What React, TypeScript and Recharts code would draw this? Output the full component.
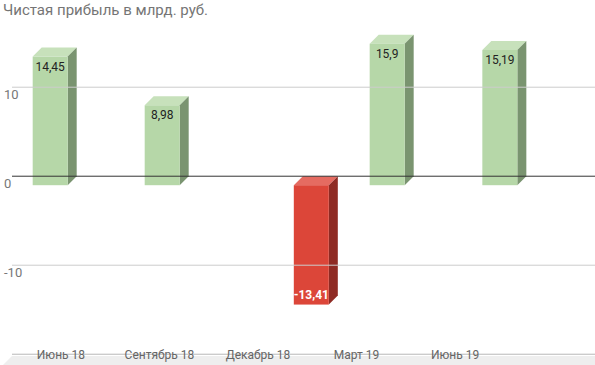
import { ComposedChart, Bar, XAxis, YAxis, ReferenceLine } from "recharts";

// x positions of the bars in months from June 2018
const barMonths = [-0.04, 3.37, 7.91, 10.22, 13.65];
const profit = [14.45, 8.98, -13.41, 15.9, 15.19];
const profitLabels = ["14,45", "8,98", "-13,41", "15,9", "15,19"];

const tickMonths = [0, 3, 6, 9, 12];
const tickLabels = ["Июнь 18", "Сентябрь 18", "Декабрь 18", "Март 19", "Июнь 19"];
const valueTicks = [-10, 0, 10];
const gridValues = [-10, 10];
const floorValue = -20;

const data = barMonths.map((m, i) => ({ m, value: profit[i], label: profitLabels[i] }));

const FONT = "Roboto, 'Noto Sans', sans-serif";
const D = 9; // depth offset of the 3d bars

const GREEN = { front: "#b6d7a8", top: "#c7e1bb", side: "#7a9470" };
const RED = { front: "#dc4639", top: "#e56b61", side: "#8f2b24" };

function Bar3D(props: any) {
  const { x, y, width, height, payload } = props;
  const top = Math.min(y, y + height);
  const h = Math.abs(height);
  const neg = payload.value < 0;
  const c = neg ? RED : GREEN;
  const fx = x - D;
  const fy = top + D;
  const w = width;
  return (
    <g>
      <polygon
        points={`${fx},${fy} ${fx + D},${fy - D} ${fx + w + D},${fy - D} ${fx + w},${fy}`}
        fill={c.top}
      />
      <polygon
        points={`${fx + w},${fy} ${fx + w + D},${fy - D} ${fx + w + D},${fy + h - D} ${fx + w},${fy + h}`}
        fill={c.side}
      />
      <rect x={fx} y={fy} width={w} height={h} fill={c.front} />
      {neg ? (
        <text
          x={fx + w / 2}
          y={fy + h - 10}
          textAnchor="middle"
          dominantBaseline="central"
          fontFamily={FONT}
          fontSize={12}
          fontWeight="bold"
          fill="#ffffff"
        >
          {payload.label}
        </text>
      ) : (
        <text
          x={fx + w / 2}
          y={fy + 10}
          textAnchor="middle"
          dominantBaseline="central"
          fontFamily={FONT}
          fontSize={12}
          fill="#222222"
        >
          {payload.label}
        </text>
      )}
    </g>
  );
}

function renderXTick(props: any) {
  const { x, payload } = props;
  const i = tickMonths.indexOf(payload.value);
  return (
    <text x={x} y={354.5} textAnchor="middle" dominantBaseline="central" fontFamily={FONT} fontSize={12} fill="#666666">
      {tickLabels[i]}
    </text>
  );
}

function renderYTick(props: any) {
  const { y, payload } = props;
  return (
    <text x={4} y={y + 7} textAnchor="start" dominantBaseline="central" fontFamily={FONT} fontSize={13} fill="#777777">
      {payload.value}
    </text>
  );
}

export default function App() {
  return (
    <div style={{ position: "absolute", left: 0, top: 0, width: 595, height: 365, background: "#fff" }}>
      <svg width={595} height={365} style={{ position: "absolute", left: 0, top: 0 }}>
        <polygon points="12,356 595,356 595,365 3,365" fill="#eeeeee" />
      </svg>
      <div
        style={{
          position: "absolute",
          left: 3,
          top: 1,
          fontFamily: FONT,
          fontSize: 15,
          color: "#757575",
          whiteSpace: "nowrap",
        }}
      >
        Чистая прибыль в млрд. руб.
      </div>
      <div style={{ position: "absolute", left: 0, top: 0 }}>
        <ComposedChart width={595} height={365} data={data} margin={{ top: 16, right: 0, left: 11, bottom: 8 }}>
          <XAxis
            dataKey="m"
            type="number"
            domain={[-1.49, 16.26]}
            ticks={tickMonths}
            height={1}
            tick={renderXTick}
            tickLine={false}
            axisLine={false}
            interval={0}
            allowDataOverflow
          />
          <YAxis
            type="number"
            domain={[-20.2, 18]}
            ticks={valueTicks}
            width={1}
            tick={renderYTick}
            tickLine={false}
            axisLine={false}
            interval={0}
            allowDataOverflow
          />
          {gridValues.map((v) => (
            <ReferenceLine key={v} y={v} stroke="#cccccc" />
          ))}
          <ReferenceLine y={floorValue} stroke="#b8b8b8" />
          <ReferenceLine y={0} stroke="#333333" />
          <Bar dataKey="value" barSize={35} shape={<Bar3D />} isAnimationActive={false} />
        </ComposedChart>
      </div>
    </div>
  );
}
